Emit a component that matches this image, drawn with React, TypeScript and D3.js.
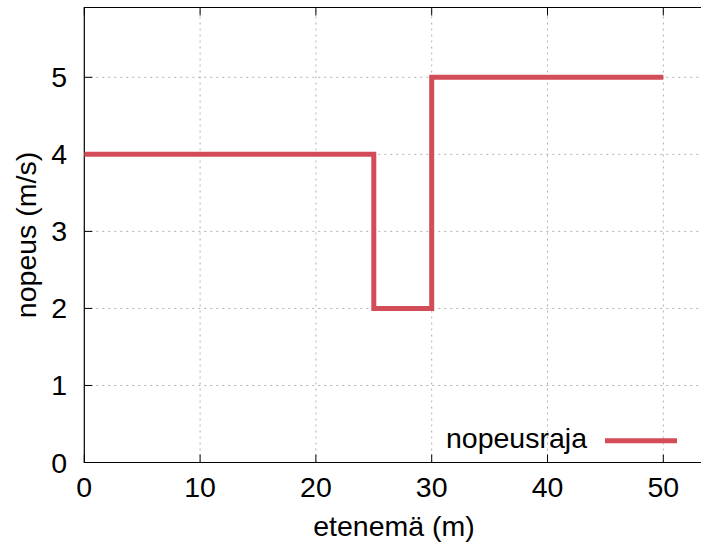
import React from "react";
import * as d3 from "d3";

const distances = [0, 25, 30, 50];
const speeds = [4, 2, 5, 5];
const xTicks = [0, 10, 20, 30, 40, 50];
const yTicks = [0, 1, 2, 3, 4, 5];
const seriesName = "nopeusraja";
const xLabel = "etenemä (m)";
const yLabel = "nopeus (m/s)";

export default function App() {
  const W = 701, H = 543;
  const left = 84.3, top = 7.5, bottom = 462.5;
  const x = d3.scaleLinear().domain([0, 50]).range([left, 663.3]);
  const y = d3.scaleLinear().domain([0, 5]).range([bottom, 77.3]);
  const right = x(55);
  const pts = distances.map((d, i) => [d, speeds[i]] as [number, number]);
  const line = d3.line<[number, number]>().x(d => x(d[0])).y(d => y(d[1])).curve(d3.curveStepAfter);
  const font = "'Liberation Sans', Arial, Helvetica, sans-serif";
  const color = "#d24d57";
  return (
    <svg width={W} height={H} style={{ position: "absolute", left: 0, top: 0, background: "#fff" }}>
      <g fontFamily={font} fontSize={28.5} fill="#000">
        {xTicks.filter(t => t > 0).map(t => (
          <line key={"gx" + t} x1={x(t)} x2={x(t)} y1={bottom} y2={top} stroke="#b0b0b0" strokeWidth={1} strokeDasharray="2,4" />
        ))}
        {yTicks.filter(t => t > 0).map(t => (
          <line key={"gy" + t} x1={left} x2={right} y1={y(t)} y2={y(t)} stroke="#b0b0b0" strokeWidth={1} strokeDasharray="2,4" />
        ))}
        {xTicks.map(t => (
          <g key={"tx" + t}>
            <line x1={x(t)} x2={x(t)} y1={bottom} y2={bottom - 8} stroke="#000" strokeWidth={1} />
            <line x1={x(t)} x2={x(t)} y1={top} y2={top + 8} stroke="#000" strokeWidth={1} />
            <text x={x(t)} y={497} textAnchor="middle">{t}</text>
          </g>
        ))}
        {yTicks.map(t => (
          <g key={"ty" + t}>
            <line x1={left} x2={left + 8} y1={y(t)} y2={y(t)} stroke="#000" strokeWidth={1} />
            <text x={67} y={y(t) + 10} textAnchor="end">{t}</text>
          </g>
        ))}
        <path d={`M${right},${top}H${left}V${bottom}H${right}`} fill="none" stroke="#000" strokeWidth={1.2} />
        <path d={line(pts) || ""} fill="none" stroke={color} strokeWidth={5} />
        <text x={587} y={448} textAnchor="end">{seriesName}</text>
        <line x1={605} x2={677} y1={440.7} y2={440.7} stroke={color} strokeWidth={5} />
        <text x={394} y={536} textAnchor="middle">{xLabel}</text>
        <text transform={`translate(36,${(top + bottom) / 2}) rotate(-90)`} textAnchor="middle">{yLabel}</text>
      </g>
    </svg>
  );
}
